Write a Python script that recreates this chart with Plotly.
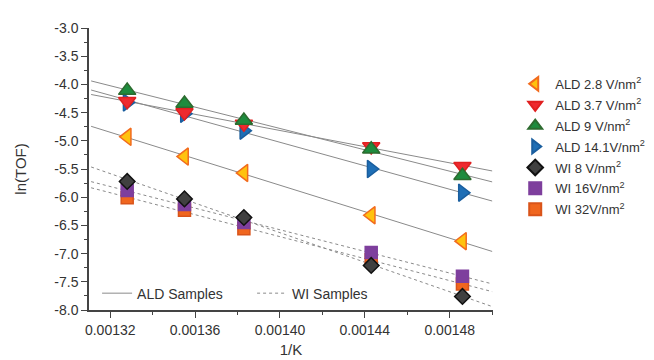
import numpy as np
import plotly.graph_objects as go

# ---- data ----
inv_T = [0.001328, 0.001355, 0.001383, 0.001443, 0.001486]

ald_28 = [-4.93, -5.28, -5.57, -6.32, -6.78]
ald_37 = [-4.30, -4.50, -4.70, -5.10, -5.45]
ald_9 = [-4.11, -4.34, -4.64, -5.15, -5.62]
ald_141 = [-4.32, -4.52, -4.82, -5.50, -5.92]
wi_8 = [-5.72, -6.03, -6.36, -7.21, -7.76]
wi_16 = [-5.88, -6.13, -6.45, -6.98, -7.40]
wi_32 = [-6.01, -6.23, -6.56, -7.11, -7.54]

y_ticks = [-3.0, -3.5, -4.0, -4.5, -5.0, -5.5, -6.0, -6.5, -7.0, -7.5, -8.0]
x_ticks = [0.00132, 0.00136, 0.00140, 0.00144, 0.00148]
fit_x_span = [0.001311, 0.0015]

FONT = "Arial, Liberation Sans, sans-serif"

fig = go.Figure()

def fit_line(ys):
    m, b = np.polyfit(inv_T, ys, 1)
    return [m * x + b for x in fit_x_span]

# fit lines (one trace per group, segments separated by None)
def group_xy(series):
    xs, ys = [], []
    for s in series:
        xs += fit_x_span + [None]
        ys += fit_line(s) + [None]
    return xs, ys

ax, ay = group_xy([ald_28, ald_37, ald_9, ald_141])
wx, wy = group_xy([wi_8, wi_16, wi_32])
fig.add_trace(go.Scatter(x=ax, y=ay, mode="lines", name="ALD Samples",
                         line=dict(color="#8a8a8a", width=1), legend="legend2"))
fig.add_trace(go.Scatter(x=wx, y=wy, mode="lines", name="WI Samples",
                         line=dict(color="#8a8a8a", width=1, dash="dot"), legend="legend2"))

sup = "V/nm<sup>2</sup>"
markers = [
    # name, data, symbol, fill, outline, size, rank
    ("ALD 2.8 " + sup, ald_28, "triangle-left", "#FFC20E", "#F26B1D", 15, 1),
    ("ALD 14.1" + sup, ald_141, "triangle-right", "#1F6FB6", "#1A5E9E", 15, 4),
    ("ALD 3.7 " + sup, ald_37, "triangle-down", "#EE2A2F", "#E02020", 15, 2),
    ("ALD 9 " + sup, ald_9, "triangle-up", "#1E8C3E", "#2D6B2F", 15, 3),
    ("WI 32" + sup, wi_32, "square", "#F0661E", "#D9541A", 12, 7),
    ("WI 16" + sup, wi_16, "square", "#7E3F9D", "#7E3F9D", 12, 6),
    ("WI 8 " + sup, wi_8, "diamond", "#404040", "#111111", 12, 5),
]
for name, ys, sym, fill, edge, size, rank in markers:
    fig.add_trace(go.Scatter(
        x=inv_T, y=ys, mode="markers", name=name, legendrank=rank,
        legendgroup=f"g{rank}",
        marker=dict(symbol=sym, size=size, color=fill,
                    line=dict(color=edge, width=1.5)),
    ))

fig.update_layout(
    width=654, height=360,
    margin=dict(l=79, r=165, t=20, b=48),
    paper_bgcolor="white", plot_bgcolor="white",
    font=dict(family=FONT, size=14, color="#333333"),
    showlegend=True,
    legend=dict(x=1.055, xanchor="left", y=0.855, yanchor="top",
                font=dict(size=13, color="#333333"), bgcolor="rgba(0,0,0,0)",
                tracegroupgap=1, itemsizing="constant"),
    legend2=dict(x=0.02, xanchor="left", y=0.115, yanchor="top",
                 orientation="h", entrywidth=110, entrywidthmode="pixels",
                 font=dict(size=14, color="#333333"), bgcolor="rgba(0,0,0,0)"),
    xaxis=dict(
        range=[0.001310, 0.0015004],
        tickmode="array", tickvals=x_ticks,
        ticktext=[f"{v:.5f}" for v in x_ticks],
        ticks="outside", ticklen=6, tickcolor="#444", tickwidth=1,
        minor=dict(tickmode="linear", tick0=0.00130, dtick=0.00002,
                   ticks="outside", ticklen=3, tickcolor="#444"),
        showline=True, linecolor="#444", linewidth=1.5,
        showgrid=False, zeroline=False,
        title=dict(text="1/K", standoff=8, font=dict(size=15)),
    ),
    yaxis=dict(
        range=[-8.0, -3.0],
        tickmode="array", tickvals=y_ticks,
        ticktext=[f"{v:.1f}" for v in y_ticks],
        ticks="outside", ticklen=6, tickcolor="#444", tickwidth=1,
        minor=dict(tickmode="linear", tick0=-8.0, dtick=0.25,
                   ticks="outside", ticklen=3, tickcolor="#444"),
        showline=True, linecolor="#444", linewidth=1.5,
        showgrid=False, zeroline=False,
        title=dict(text="ln(TOF)", standoff=24, font=dict(size=15)),
    ),
)

fig.write_html("out.html")
